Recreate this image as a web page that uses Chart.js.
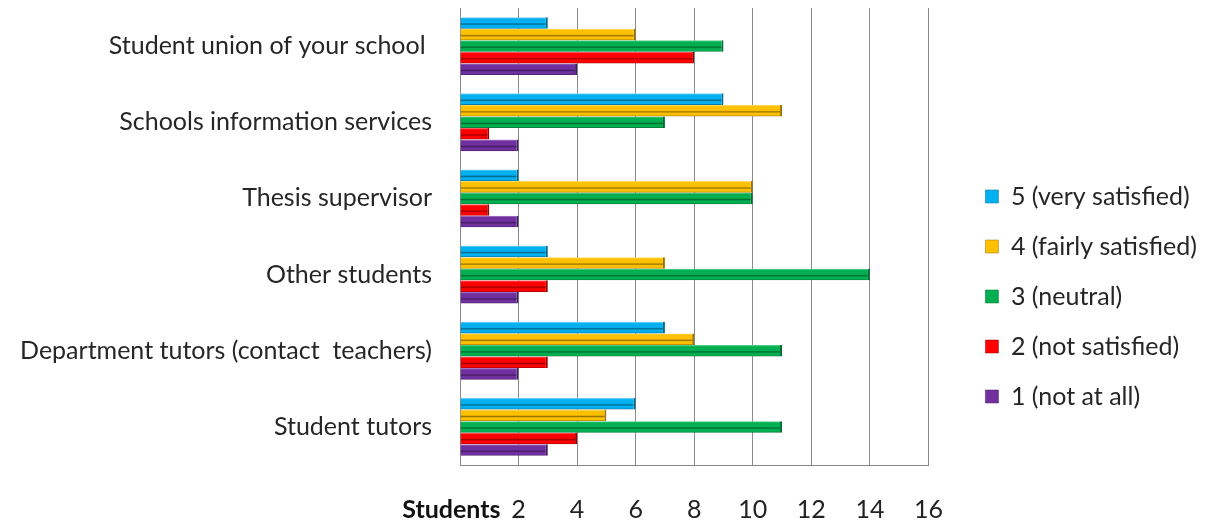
<!DOCTYPE html>
<html>
<head>
<meta charset="utf-8">
<script src="https://cdn.jsdelivr.net/npm/chart.js@4.4.1/dist/chart.umd.min.js"></script>
<style>
  html, body { margin: 0; padding: 0; background: #fff; }
  #wrap { width: 1212px; height: 523px; position: relative; }
</style>
</head>
<body>
<div id="wrap"><canvas id="satisfaction"></canvas></div>
<script>
// categories top to bottom
const categories = [
  'Student union of your school ',
  'Schools information services',
  'Thesis supervisor',
  'Other students',
  'Department tutors (contact  teachers)',
  'Student tutors'
];

const seriesNames = [
  '5 (very satisfied)',
  '4 (fairly satisfied)',
  '3 (neutral)',
  '2 (not satisfied)',
  '1 (not at all)'
];

const verySatisfied   = [3, 9, 2, 3, 7, 6];
const fairlySatisfied = [6, 11, 10, 7, 8, 5];
const neutral         = [9, 7, 10, 14, 11, 11];
const notSatisfied    = [8, 1, 1, 3, 3, 4];
const notAtAll        = [4, 2, 2, 2, 2, 3];

const xTicks = [0, 2, 4, 6, 8, 10, 12, 14, 16];
const axisTitle = 'Students';

// base / light / dark shades for the bevelled look
const colors = [
  {base: '#00b0f0', light: '#8fdcf8', dark: '#00698f'},
  {base: '#ffc000', light: '#ffe27a', dark: '#9a7400'},
  {base: '#00b050', light: '#6fd89a', dark: '#006b30'},
  {base: '#ff0000', light: '#ff8080', dark: '#9e0000'},
  {base: '#7030a0', light: '#b08ad0', dark: '#431c60'}
];

const FONT = 'Lato';

const values = [verySatisfied, fairlySatisfied, neutral, notSatisfied, notAtAll];

const datasets = values.map((v, i) => ({
  label: seriesNames[i],
  data: v,
  backgroundColor: colors[i].base,
  borderColor: colors[i].dark,
  borderWidth: {top: 0, bottom: 0, left: 0, right: 2},
  borderSkipped: 'start'
}));

// give each bar its own vertical gradient
const bevelPlugin = {
  id: 'bevel',
  beforeDatasetsDraw(chart) {
    const ctx = chart.ctx;
    chart.data.datasets.forEach((ds, di) => {
      const meta = chart.getDatasetMeta(di);
      const c = colors[di];
      meta.data.forEach(el => {
        const top = el.y - el.height / 2;
        const bottom = el.y + el.height / 2;
        const g = ctx.createLinearGradient(0, top, 0, bottom);
        g.addColorStop(0, c.light);
        g.addColorStop(0.15, c.base);
        g.addColorStop(0.48, c.base);
        g.addColorStop(0.6, c.dark);
        g.addColorStop(0.72, c.base);
        g.addColorStop(0.88, c.base);
        g.addColorStop(1, c.dark);
        el.options = Object.assign({}, el.options, {backgroundColor: g});
      });
    });
  }
};

// move the legend a bit right and down, like the original
const legendShift = {
  id: 'legendShift',
  afterLayout(chart) {
    const lg = chart.legend;
    lg.left += 32; lg.right += 32;
    lg.top += 31; lg.bottom += 31;
  }
};

// the "Students" word left of the first tick
const axisWord = {
  id: 'axisWord',
  afterDraw(chart) {
    const ctx = chart.ctx;
    const x = chart.scales.x;
    ctx.save();
    ctx.font = 'bold 25px ' + FONT;
    ctx.fillStyle = '#111';
    ctx.textAlign = 'right';
    ctx.textBaseline = 'middle';
    ctx.fillText(axisTitle, x.getPixelForValue(2) - 18, 510);
    ctx.restore();
  }
};

const chart = new Chart(document.querySelector('#satisfaction'), {
  type: 'bar',
  data: {labels: categories, datasets: datasets},
  options: {
    indexAxis: 'y',
    responsive: true,
    maintainAspectRatio: false,
    animation: false,
    layout: {padding: {top: 8, left: 0, right: 37, bottom: 0}},
    categoryPercentage: 0.76,
    barPercentage: 1.0,
    scales: {
      x: {
        min: 0,
        max: 16,
        afterBuildTicks: s => { s.ticks = xTicks.map(v => ({value: v})); },
        afterFit: s => { s.height = 58; s.paddingRight = 0; s.paddingLeft = 0; },
        grid: {color: '#8a8a8a', lineWidth: 1, drawTicks: false},
        border: {color: '#8a8a8a'},
        ticks: {
          padding: 30,
          color: '#222',
          font: {family: FONT, size: 25},
          callback: v => (v === 0 ? '' : String(v))
        }
      },
      y: {
        afterFit: s => { s.width = 460; s.paddingTop = 0; s.paddingBottom = 0; },
        grid: {display: false, drawTicks: false},
        border: {color: '#8a8a8a'},
        ticks: {
          padding: 28,
          color: '#262626',
          font: {family: FONT, size: 25}
        }
      }
    },
    plugins: {
      legend: {
        position: 'right',
        labels: {
          boxWidth: 13,
          boxHeight: 13,
          padding: 25,
          color: '#262626',
          font: {family: FONT, size: 25}
        }
      },
      tooltip: {enabled: false}
    }
  },
  plugins: [bevelPlugin, legendShift, axisWord]
});
</script>
</body>
</html>
